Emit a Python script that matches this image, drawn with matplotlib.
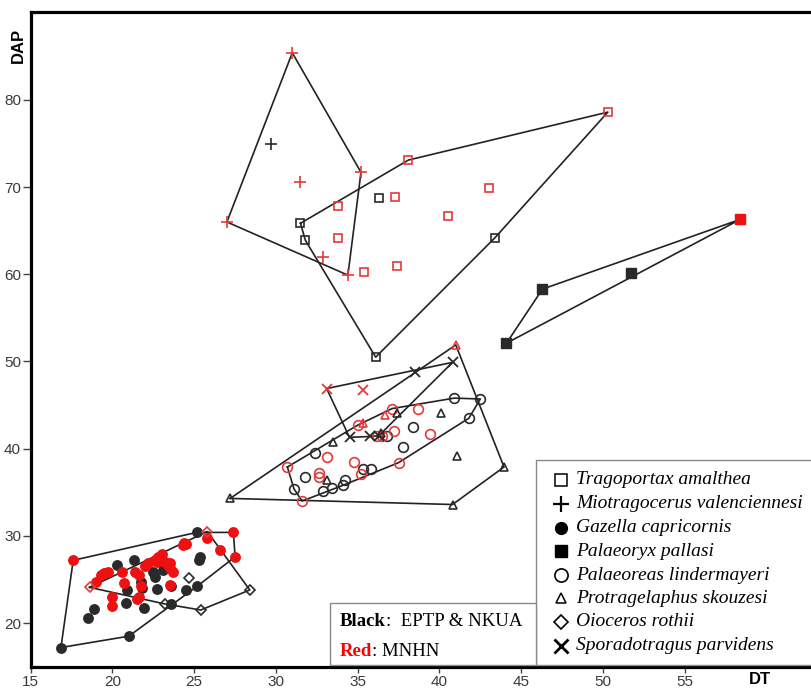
import matplotlib
matplotlib.use("Agg")
import matplotlib.pyplot as plt
from matplotlib.patches import Rectangle
from matplotlib.lines import Line2D

# ---------------- data: DT (x) vs DAP (y) ----------------
# Tragoportax amalthea
trag_black_x = [31.5, 31.8, 36.3, 43.4, 36.1]
trag_black_y = [65.85, 63.9, 68.8, 64.2, 50.5]
trag_red_x = [33.8, 33.8, 35.4, 37.3, 37.4, 38.1, 43.0, 40.5, 50.3]
trag_red_y = [67.8, 64.2, 60.3, 68.9, 61.0, 73.1, 69.9, 66.7, 78.6]

# Miotragocerus valenciennesi
mio_black_x = [29.7]
mio_black_y = [74.9]
mio_red_x = [31.0, 31.5, 35.2, 27.0, 32.9, 34.4]
mio_red_y = [85.4, 70.6, 71.7, 66.0, 62.0, 59.9]

# Gazella capricornis
gaz_black_x = [25.15, 21.3, 20.3, 25.35, 25.3, 22.46, 22.6, 23.1, 21.75, 21.8,
               20.9, 22.7, 23.6, 24.5, 25.2, 20.8, 21.9, 23.6, 18.9, 18.5,
               21.0, 16.85]
gaz_black_y = [30.4, 27.2, 26.7, 27.6, 27.2, 25.9, 25.3, 26.1, 24.7, 24.0,
               23.8, 23.9, 24.2, 23.8, 24.25, 22.3, 21.7, 22.2, 21.6, 20.6,
               18.5, 17.2]
gaz_red_x = [17.6, 27.4, 27.5, 26.6, 25.8, 24.4, 24.3, 23.0, 23.0, 22.6,
             22.2, 22.0, 21.4, 20.6, 19.7, 19.5, 19.3, 19.0, 20.7, 21.6,
             23.4, 23.5, 23.5, 23.7, 23.5, 21.75, 21.6, 19.95, 20.0, 21.5,
             22.8, 22.7, 23.2, 24.5]
gaz_red_y = [27.2, 30.4, 27.6, 28.4, 29.8, 29.15, 28.9, 27.9, 27.4, 27.2,
             26.9, 26.6, 25.9, 25.9, 25.9, 25.7, 25.5, 24.75, 24.6, 25.5,
             26.7, 26.3, 26.9, 25.9, 24.4, 24.2, 23.0, 23.0, 22.0, 22.8,
             27.6, 27.0, 27.0, 29.1]

# Palaeoryx pallasi
pal_black_x = [46.3, 51.7, 44.1]
pal_black_y = [58.3, 60.1, 52.1]
pal_red_x = [58.4]
pal_red_y = [66.3]

# Palaeoreas lindermayeri
pla_black_x = [40.9, 42.5, 41.8, 38.4, 36.8, 37.8, 32.4, 35.3, 35.8, 31.8,
               34.2, 34.1, 33.4, 32.9, 31.1]
pla_black_y = [45.8, 45.7, 43.5, 42.5, 41.4, 40.2, 39.5, 37.7, 37.7, 36.7,
               36.4, 35.8, 35.5, 35.1, 35.4]
pla_red_x = [38.7, 37.1, 37.2, 39.4, 36.2, 36.5, 35.0, 37.5, 33.1, 34.8,
             35.2, 32.65, 32.65, 31.6, 30.7]
pla_red_y = [44.55, 44.6, 42.0, 41.65, 41.4, 41.4, 42.7, 38.4, 39.1, 38.5,
             37.1, 37.2, 36.7, 34.0, 37.9]

# Protragelaphus skouzesi
pro_black_x = [43.95, 40.8, 41.1, 40.1, 37.4, 33.5, 36.4, 33.1, 27.2]
pro_black_y = [37.9, 33.6, 39.2, 44.06, 44.1, 40.8, 41.8, 36.4, 34.3]
pro_red_x = [41.0, 36.7, 35.3]
pro_red_y = [51.9, 43.9, 43.0]

# Oioceros rothii
oio_black_x = [28.4, 25.4, 23.2, 24.7]
oio_black_y = [23.8, 21.5, 22.2, 25.2]
oio_red_x = [18.6, 25.8]
oio_red_y = [24.1, 30.5]

# Sporadotragus parvidens
spo_black_x = [38.5, 40.8, 34.5, 35.75, 36.3]
spo_black_y = [48.8, 49.9, 41.3, 41.4, 41.5]
spo_red_x = [33.1, 35.3]
spo_red_y = [46.9, 46.7]

x_ticks = [15, 20, 25, 30, 35, 40, 45, 50, 55]
y_ticks = [20, 30, 40, 50, 60, 70, 80]

species_names = ["Tragoportax amalthea", "Miotragocerus valenciennesi",
                 "Gazella capricornis", "Palaeoryx pallasi",
                 "Palaeoreas lindermayeri", "Protragelaphus skouzesi",
                 "Oioceros rothii", "Sporadotragus parvidens"]

BLACK = "#2a2a2a"
RED_OPEN = "#e23a3a"
RED_FILL = "#ee1111"

# marker styles: (marker, size, filled, edge width)
styles = [("s", 6.0, False, 1.2), ("+", 8.5, False, 1.2), ("o", 6.8, True, 1.0),
          ("s", 6.5, True, 1.0), ("o", 7.0, False, 1.2), ("^", 6.0, False, 1.2),
          ("D", 5.0, False, 1.2), ("x", 7.0, False, 1.3)]

groups = [
    (trag_black_x, trag_black_y, trag_red_x, trag_red_y),
    (mio_black_x, mio_black_y, mio_red_x, mio_red_y),
    (gaz_black_x, gaz_black_y, gaz_red_x, gaz_red_y),
    (pal_black_x, pal_black_y, pal_red_x, pal_red_y),
    (pla_black_x, pla_black_y, pla_red_x, pla_red_y),
    (pro_black_x, pro_black_y, pro_red_x, pro_red_y),
    (oio_black_x, oio_black_y, oio_red_x, oio_red_y),
    (spo_black_x, spo_black_y, spo_red_x, spo_red_y),
]


def convex_hull(points):
    pts = sorted(set(points))
    if len(pts) < 3:
        return pts

    def cross(o, a, b):
        return (a[0] - o[0]) * (b[1] - o[1]) - (a[1] - o[1]) * (b[0] - o[0])

    lower, upper = [], []
    for p in pts:
        while len(lower) >= 2 and cross(lower[-2], lower[-1], p) <= 0:
            lower.pop()
        lower.append(p)
    for p in reversed(pts):
        while len(upper) >= 2 and cross(upper[-2], upper[-1], p) <= 0:
            upper.pop()
        upper.append(p)
    return lower[:-1] + upper[:-1]


fig = plt.figure(figsize=(8.12, 6.89), dpi=100)
W, H = 812.0, 689.0
ax = fig.add_axes([30.7 / W, 1 - 666.7 / H, (W - 30.7) / W, (666.7 - 11.7) / H])
ax.set_xlim(15, 15 + (W - 30.7) / 16.35)
ax.set_ylim(15, 15 + (666.7 - 11.7) / 8.72)

# convex hulls
for bx, by, rx, ry in groups:
    hull = convex_hull(list(zip(bx + rx, by + ry)))
    hx = [p[0] for p in hull] + [hull[0][0]]
    hy = [p[1] for p in hull] + [hull[0][1]]
    ax.plot(hx, hy, color="#222222", lw=1.2, zorder=2)

# points
for (bx, by, rx, ry), (mk, ms, filled, mew) in zip(groups, styles):
    for xs, ys, col in ((bx, by, BLACK), (rx, ry, RED_FILL if filled else RED_OPEN)):
        if filled:
            ax.plot(xs, ys, ls="none", marker=mk, ms=ms, mfc=col, mec=col,
                    mew=mew, zorder=3)
        else:
            ax.plot(xs, ys, ls="none", marker=mk, ms=ms, mfc="none", mec=col,
                    mew=mew, zorder=3)

for side in ("left", "bottom", "top"):
    ax.spines[side].set_linewidth(2.3)
    ax.spines[side].set_color("black")
ax.spines["right"].set_visible(False)

ax.set_xticks(x_ticks)
ax.set_yticks(y_ticks)
ax.tick_params(axis="both", direction="out", width=1.0, color="#444444",
               labelcolor="#3a3a3a", labelsize=11)
ax.tick_params(axis="x", length=4, pad=2)
ax.tick_params(axis="y", length=6, pad=1)
for lab in ax.get_xticklabels() + ax.get_yticklabels():
    lab.set_fontfamily("Liberation Sans")

# overlay in pixel coordinates for annotation boxes
ov = fig.add_axes([0, 0, 1, 1], zorder=5)
ov.set_xlim(0, W)
ov.set_ylim(H, 0)
ov.axis("off")
ov.patch.set_alpha(0)

ov.text(18, 45, "DAP", rotation=90, ha="center", va="center",
        fontsize=12, fontweight="bold", family="Liberation Sans")
ov.text(760, 680, "DT", ha="center", va="center",
        fontsize=12, fontweight="bold", family="Liberation Sans")

# species key box
ov.add_patch(Rectangle((536, 460), 300, 205, facecolor="white",
                       edgecolor="#8a8a8a", lw=1.0))
row_y = [480, 504, 527.7, 551, 575, 598.3, 621.7, 646]
key_styles = [("s", 9.0, False, 1.1), ("+", 12, False, 1.6), ("o", 8.5, True, 1.0),
              ("s", 8.5, True, 1.0), ("o", 9.5, False, 1.2), ("^", 7.5, False, 1.1),
              ("D", 7.0, False, 1.2), ("x", 9.5, False, 2.0)]
for name, yy, (mk, ms, filled, mew) in zip(species_names, row_y, key_styles):
    ov.add_line(Line2D([561.5], [yy], ls="none", marker=mk, ms=ms,
                       mfc="black" if filled else "none", mec="black", mew=mew))
    ov.text(576, yy, name, ha="left", va="center", fontsize=14,
            style="italic", family="Liberation Serif", color="black")

# collection key box
ov.add_patch(Rectangle((330, 603), 206, 62, facecolor="white",
                       edgecolor="#8a8a8a", lw=1.0))
t1 = ov.text(340, 621, "Black", ha="left", va="center", fontsize=13.5,
             fontweight="bold", family="Liberation Serif", color="black")
ov.annotate(":  EPTP & NKUA", xycoords=t1, xy=(1, 0.5), va="center", ha="left",
            fontsize=13.5, family="Liberation Serif", color="black")
t2 = ov.text(340, 651, "Red", ha="left", va="center", fontsize=13.5,
             fontweight="bold", family="Liberation Serif", color="red")
ov.annotate(": MNHN", xycoords=t2, xy=(1, 0.5), va="center", ha="left",
            fontsize=13.5, family="Liberation Serif", color="black")

fig.savefig("out.png", dpi=100)
